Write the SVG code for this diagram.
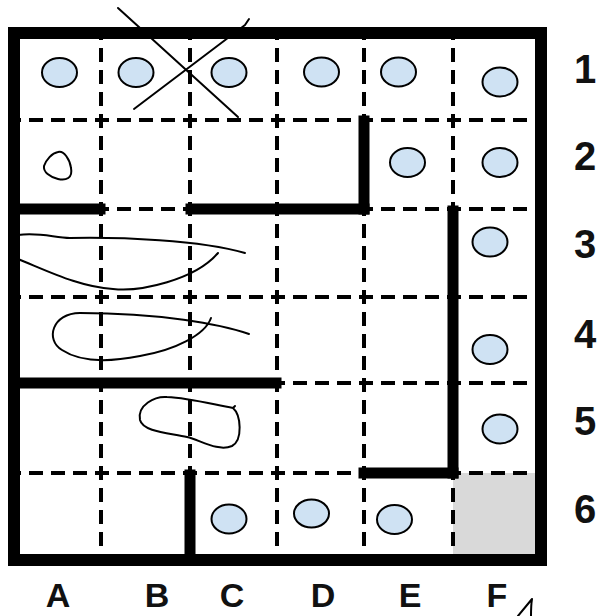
<svg xmlns="http://www.w3.org/2000/svg" width="600" height="616" viewBox="0 0 600 616">
  <style>
    .grid { stroke: #000; stroke-width: 4; stroke-dasharray: 14 8; stroke-dashoffset: 7; fill: none; }
    .wall { stroke: #000; stroke-width: 11; stroke-linecap: square; fill: none; }
    .outer { stroke: #000; stroke-width: 12; fill: none; }
    .tok { fill: #cfe2f3; stroke: #000; stroke-width: 2; }
    .hand { fill: none; stroke: #000; stroke-width: 2; stroke-linecap: round; stroke-linejoin: round; }
    .lbl { font-family: "Liberation Sans", Arial, sans-serif; font-weight: bold; fill: #111; text-anchor: middle; }
  </style>
  <rect width="600" height="616" fill="#fff"/>
  <g id="shaded-F6">
    <rect x="453" y="473" width="88" height="87" fill="#d9d9d9"/>
  </g>
  <g id="grid">
    <line class="grid" x1="101" y1="33" x2="101" y2="560"/>
    <line class="grid" x1="190" y1="33" x2="190" y2="560"/>
    <line class="grid" x1="277" y1="33" x2="277" y2="560"/>
    <line class="grid" x1="364" y1="33" x2="364" y2="560"/>
    <line class="grid" x1="453" y1="33" x2="453" y2="560"/>
    <line class="grid" x1="14" y1="120" x2="541" y2="120"/>
    <line class="grid" x1="14" y1="209" x2="541" y2="209"/>
    <line class="grid" x1="14" y1="297" x2="541" y2="297"/>
    <line class="grid" x1="14" y1="383" x2="541" y2="383"/>
    <line class="grid" x1="14" y1="473" x2="541" y2="473"/>
  </g>
  <g id="walls">
    <rect class="outer" x="14" y="33" width="527" height="527"/>
    <line class="wall" x1="14" y1="209" x2="100" y2="209"/>
    <line class="wall" x1="191" y1="209" x2="364" y2="209"/>
    <line class="wall" x1="364" y1="121" x2="364" y2="209"/>
    <line class="wall" x1="453" y1="211" x2="453" y2="473"/>
    <line class="wall" x1="364" y1="473" x2="453" y2="473"/>
    <line class="wall" x1="14" y1="383" x2="276" y2="383"/>
    <line class="wall" x1="190" y1="475" x2="190" y2="560"/>
  </g>
  <g id="tokens">
    <g id="A1"><ellipse class="tok" cx="59.5" cy="72.5" rx="17.5" ry="14.5"/></g>
    <g id="B1"><ellipse class="tok" cx="136" cy="72.5" rx="17.5" ry="14.5"/></g>
    <g id="C1"><ellipse class="tok" cx="229" cy="72.5" rx="17.5" ry="14.5"/></g>
    <g id="D1"><ellipse class="tok" cx="321.5" cy="72" rx="17.5" ry="14.5"/></g>
    <g id="E1"><ellipse class="tok" cx="398.5" cy="72" rx="17.5" ry="14.5"/></g>
    <g id="F1"><ellipse class="tok" cx="500" cy="82" rx="17.5" ry="14.5"/></g>
    <g id="E2"><ellipse class="tok" cx="407.5" cy="162.5" rx="17.5" ry="14.5"/></g>
    <g id="F2"><ellipse class="tok" cx="500" cy="162.5" rx="17.5" ry="14.5"/></g>
    <g id="F3"><ellipse class="tok" cx="490" cy="242" rx="17.5" ry="14.5"/></g>
    <g id="F4"><ellipse class="tok" cx="490" cy="349.5" rx="17.5" ry="14.5"/></g>
    <g id="F5"><ellipse class="tok" cx="500" cy="429" rx="17.5" ry="14.5"/></g>
    <g id="C6"><ellipse class="tok" cx="229" cy="519" rx="17.5" ry="14.5"/></g>
    <g id="D6"><ellipse class="tok" cx="311.5" cy="513.5" rx="17.5" ry="14"/></g>
    <g id="E6"><ellipse class="tok" cx="394.5" cy="519.5" rx="17.5" ry="14.5"/></g>
  </g>
  <g id="annotations">
    <line class="hand" x1="118" y1="8" x2="238" y2="117"/>
    <path class="hand" d="M249,19 L245,25 L134,109"/>
    <path class="hand" d="M58,152 C64,150 70,160 71,168 C73,178 66,181 58,179 C50,177 43,172 44,166 C46,160 52,153 58,152 Z"/>
    <path class="hand" d="M18,235 C40,232 55,238 70,238 C120,237 200,240 245,253"/>
    <path class="hand" d="M218,253 C195,280 140,292 113,289 C80,287 50,272 18,259"/>
    <path class="hand" d="M249,334 C220,324 160,313 80,313 C52,313 45,340 62,350 C80,362 110,362 140,356 C175,350 205,335 211,318"/>
    <path class="hand" d="M233,408 C241,415 243,440 232,446 C218,452 200,440 187,437 C170,433 143,432 140,420 C137,405 155,396 167,397 C190,398 215,405 233,408 L235,406"/>
    <path class="hand" d="M532,599 L518,616 M532,599 C531,605 531,611 531,616"/>
  </g>
  <g id="row-labels">
    <text class="lbl" x="585" y="83" font-size="40">1</text>
    <text class="lbl" x="585" y="170" font-size="40">2</text>
    <text class="lbl" x="585" y="258" font-size="40">3</text>
    <text class="lbl" x="585" y="348" font-size="40">4</text>
    <text class="lbl" x="585" y="435" font-size="40">5</text>
    <text class="lbl" x="585" y="523" font-size="40">6</text>
  </g>
  <g id="col-labels">
    <text class="lbl" x="58" y="607" font-size="34">A</text>
    <text class="lbl" x="157" y="607" font-size="34">B</text>
    <text class="lbl" x="232" y="607" font-size="34">C</text>
    <text class="lbl" x="323" y="607" font-size="34">D</text>
    <text class="lbl" x="410" y="607" font-size="34">E</text>
    <text class="lbl" x="497" y="607" font-size="34">F</text>
  </g>
</svg>
